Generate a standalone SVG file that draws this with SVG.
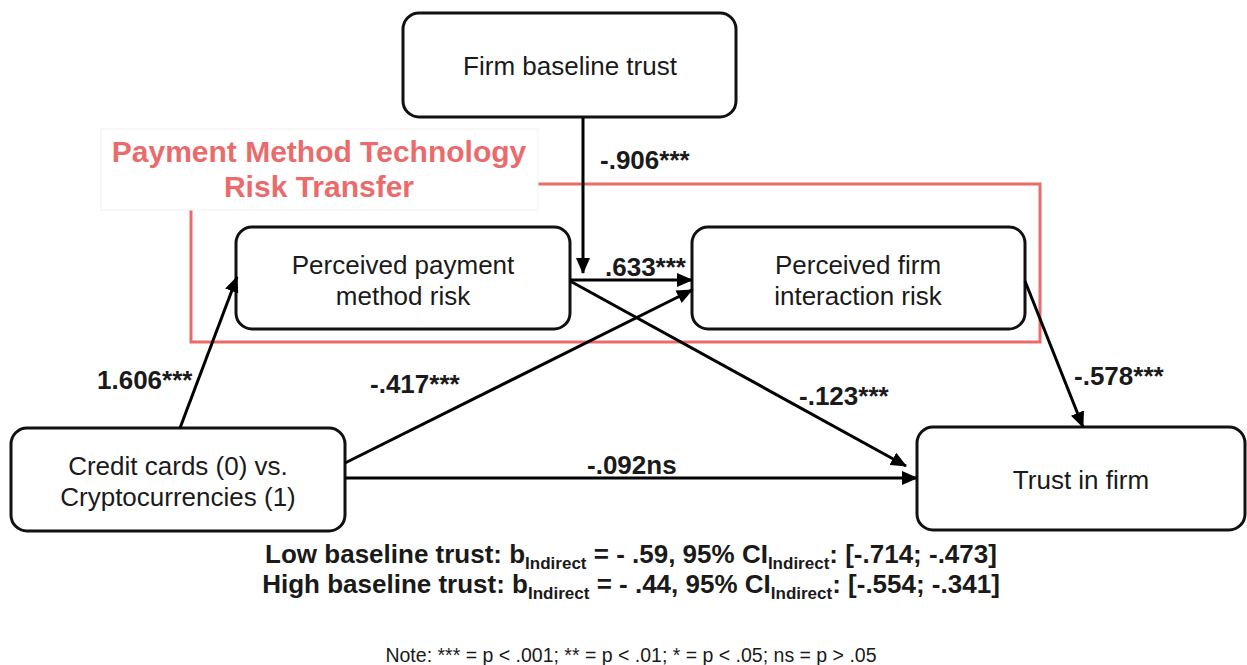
<svg xmlns="http://www.w3.org/2000/svg" width="1247" height="665" viewBox="0 0 1247 665">
<style>
.node rect{fill:#fff;stroke:#111;stroke-width:3}
.nt{font-family:"Liberation Sans",Arial,sans-serif;font-size:26px;fill:#1a1a1a;text-anchor:middle}
.lbl{font-family:"Liberation Sans",Arial,sans-serif;font-size:26px;font-weight:bold;fill:#1a1a1a}
.conn line{stroke:#000;stroke-width:3;marker-end:url(#ah)}
.res{font-family:"Liberation Sans",Arial,sans-serif;font-size:26px;font-weight:bold;fill:#1a1a1a;text-anchor:middle}
.sub{font-size:17px}
</style>
<defs>
<marker id="ah" markerWidth="16" markerHeight="14" refX="15" refY="7" orient="auto" markerUnits="userSpaceOnUse" viewBox="0 0 16 14"><path d="M0,0 L16,7 L0,14 z" fill="#000"/></marker>
</defs>
<rect width="1247" height="665" fill="#fff"/>
<g id="group-frame">
<rect x="191" y="184" width="849" height="158" fill="none" stroke="#EA6B6B" stroke-width="3"/>
<rect x="101" y="129" width="437" height="81" fill="#fff" stroke="#f0f0f0" stroke-width="1"/>
<text x="319" y="162" text-anchor="middle" font-family="Liberation Sans,Arial,sans-serif" font-size="30" font-weight="bold" fill="#EA6B6B">Payment Method Technology</text>
<text x="319" y="197" text-anchor="middle" font-family="Liberation Sans,Arial,sans-serif" font-size="30" font-weight="bold" fill="#EA6B6B">Risk Transfer</text>
</g>
<g id="node-baseline" class="node"><rect x="403" y="13" width="333" height="104" rx="16"/><text class="nt" x="570" y="75">Firm baseline trust</text></g>
<g id="node-payment" class="node"><rect x="236" y="227" width="334" height="102" rx="16"/><text class="nt" x="403" y="274">Perceived payment</text><text class="nt" x="403" y="305">method risk</text></g>
<g id="node-firm" class="node"><rect x="692" y="227" width="333" height="102" rx="16"/><text class="nt" x="858" y="274">Perceived firm</text><text class="nt" x="858" y="305">interaction risk</text></g>
<g id="node-credit" class="node"><rect x="11" y="428" width="334" height="103" rx="16"/><text class="nt" x="178" y="475">Credit cards (0) vs.</text><text class="nt" x="178" y="506">Cryptocurrencies (1)</text></g>
<g id="node-trust" class="node"><rect x="917" y="427" width="328" height="103" rx="16"/><text class="nt" x="1081" y="489">Trust in firm</text></g>
<g id="connectors" class="conn">
<line x1="583" y1="118" x2="583" y2="273"/>
<line x1="570" y1="280" x2="692" y2="280"/>
<line x1="570" y1="281" x2="906" y2="466"/>
<line x1="345" y1="463" x2="692" y2="290"/>
<line x1="180" y1="428" x2="237" y2="277"/>
<line x1="345" y1="478" x2="917" y2="478"/>
<line x1="1025" y1="281" x2="1083" y2="427"/>
</g>
<g id="labels">
<text class="lbl" x="600" y="169">-.906***</text>
<text class="lbl" x="605" y="276">.633***</text>
<text class="lbl" x="97" y="389">1.606***</text>
<text class="lbl" x="370" y="393">-.417***</text>
<text class="lbl" x="799" y="405">-.123***</text>
<text class="lbl" x="1074" y="385">-.578***</text>
<text class="lbl" x="587" y="474">-.092ns</text>
</g>
<g id="results">
<text class="res" x="631" y="563">Low baseline trust: b<tspan class="sub" dy="6">Indirect</tspan><tspan dy="-6"> = - .59, 95% CI</tspan><tspan class="sub" dy="6">Indirect</tspan><tspan dy="-6">: [-.714; -.473]</tspan></text>
<text class="res" x="631" y="593">High baseline trust: b<tspan class="sub" dy="6">Indirect</tspan><tspan dy="-6"> = - .44, 95% CI</tspan><tspan class="sub" dy="6">Indirect</tspan><tspan dy="-6">: [-.554; -.341]</tspan></text>
<text x="631" y="662" text-anchor="middle" font-family="Liberation Sans,Arial,sans-serif" font-size="19.5" fill="#1a1a1a">Note: *** = p &lt; .001; ** = p &lt; .01; * = p &lt; .05; ns = p &gt; .05</text>
</g>
</svg>
